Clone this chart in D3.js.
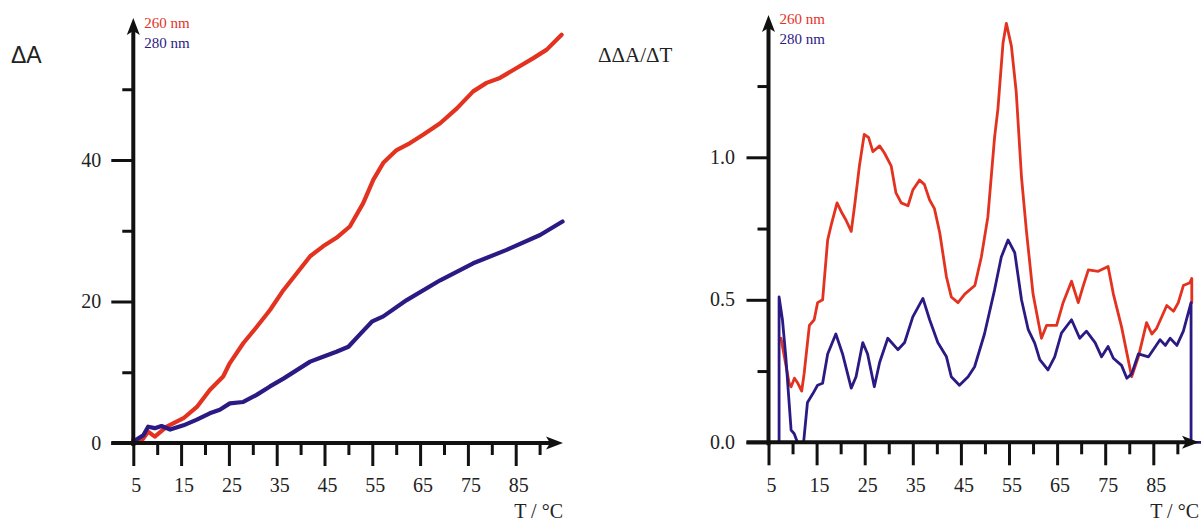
<!DOCTYPE html>
<html><head><meta charset="utf-8">
<script src="https://cdn.jsdelivr.net/npm/d3@7"></script>
<style>html,body{margin:0;padding:0;background:#fff;} svg{display:block;}</style>
</head><body>
<script>
// ---------- data ----------
const leftT260 = [5, 6.5, 8.1, 9.5, 12, 15.5, 18.3, 21, 23.8, 25.2, 28, 30.8, 33.6, 36.4, 39.2, 42, 44.7, 47.5, 50.3, 53.1, 55.2, 57.3, 60.1, 62.9, 65.7, 69.2, 72.7, 76.1, 78.9, 81.7, 85.2, 88.7, 91.5, 94.6];
const left260  = [0.5, 0.1, 1.6, 0.9, 2.3, 3.5, 5.1, 7.5, 9.4, 11.3, 14.1, 16.4, 18.8, 21.6, 24, 26.4, 27.8, 29, 30.6, 33.9, 37.2, 39.6, 41.4, 42.4, 43.6, 45.2, 47.3, 49.7, 50.9, 51.6, 53, 54.4, 55.6, 57.7];

const leftT280 = [5, 7.1, 8.1, 9.5, 10.9, 12.7, 15.5, 18.3, 21, 23.1, 25.2, 28, 30.8, 33.6, 36.4, 39.2, 42, 44.7, 47.5, 50, 52.6, 55, 57.3, 62.2, 69.2, 76.1, 83.1, 90.1, 94.8];
const left280  = [0.2, 1.1, 2.3, 2.1, 2.4, 1.9, 2.5, 3.3, 4.2, 4.7, 5.6, 5.8, 6.8, 8, 9.1, 10.3, 11.5, 12.2, 12.9, 13.6, 15.5, 17.2, 17.9, 20.2, 23, 25.4, 27.3, 29.4, 31.3];

const rightT260 = [7.6, 9.3, 9.7, 10.4, 11, 11.9, 12.4, 13.5, 14.5, 15.2, 16.25, 17.3, 18, 19.25, 20.1, 21.1, 22.2, 22.9, 23.9, 24.9, 25.8, 26.7, 28.1, 29.1, 30.5, 31.5, 32.6, 34, 35, 36.4, 37.4, 38.5, 39.5, 40.6, 42, 43, 44.4, 45.8, 47.9, 49.25, 50.6, 52, 52.7, 53.75, 54.45, 55.5, 56.5, 57.6, 58.6, 60, 61.75, 62.8, 64.9, 66.25, 68, 69.4, 70.4, 71.5, 73.55, 75.6, 76.7, 78.4, 80.5, 81.9, 83.6, 84.7, 85.7, 87.8, 89.2, 90.2, 91.25, 92.6, 93, 93];
const right260  = [0.365, 0.207, 0.195, 0.225, 0.21, 0.18, 0.24, 0.41, 0.43, 0.49, 0.5, 0.71, 0.76, 0.84, 0.81, 0.78, 0.74, 0.83, 0.97, 1.08, 1.07, 1.02, 1.04, 1.015, 0.97, 0.875, 0.84, 0.83, 0.885, 0.92, 0.905, 0.85, 0.82, 0.735, 0.58, 0.51, 0.49, 0.52, 0.55, 0.65, 0.79, 1.07, 1.17, 1.40, 1.47, 1.39, 1.23, 0.93, 0.745, 0.52, 0.365, 0.41, 0.41, 0.49, 0.565, 0.49, 0.547, 0.605, 0.6, 0.617, 0.52, 0.405, 0.23, 0.30, 0.42, 0.38, 0.40, 0.48, 0.46, 0.49, 0.55, 0.56, 0.575, 0.49];

const rightT280 = [5, 7.2, 7.2, 7.9, 8.6, 9.7, 10.35, 11, 12.3, 13.1, 14.2, 15.2, 16.25, 17.3, 19, 20.4, 22.2, 23.2, 24.6, 25.6, 27, 28.1, 29.8, 31.9, 33.3, 35, 37.1, 38.5, 40.2, 42, 43, 44.7, 46.5, 47.85, 49.9, 52, 53.4, 54.8, 56.2, 57.6, 59, 60.35, 61.4, 63.1, 64.5, 65.9, 68, 69.7, 71.1, 72.9, 74.25, 75.6, 76.7, 78.4, 79.5, 80.5, 81.9, 84, 86.4, 87.5, 88.5, 89.9, 91.25, 92.85, 92.85, 94.8];
const right280  = [0, 0, 0.51, 0.43, 0.30, 0.043, 0.03, 0, 0, 0.14, 0.17, 0.20, 0.207, 0.31, 0.38, 0.31, 0.19, 0.23, 0.35, 0.31, 0.195, 0.28, 0.365, 0.325, 0.35, 0.44, 0.505, 0.43, 0.35, 0.30, 0.23, 0.20, 0.23, 0.265, 0.38, 0.535, 0.65, 0.71, 0.665, 0.50, 0.395, 0.348, 0.29, 0.254, 0.30, 0.383, 0.43, 0.365, 0.39, 0.35, 0.30, 0.336, 0.295, 0.27, 0.225, 0.24, 0.31, 0.30, 0.36, 0.34, 0.365, 0.34, 0.39, 0.49, 0, 0];

const xMajor = [5, 15, 25, 35, 45, 55, 65, 75, 85];
const xLabels = ["5", "15", "25", "35", "45", "55", "65", "75", "85"];
const xMinor = [10, 20, 30, 40, 50, 60, 70, 80, 90];
const leftYMajor = [0, 20, 40];
const leftYLabels = ["0", "20", "40"];
const leftYMinor = [10, 30, 50];
const rightYMajor = [0, 0.5, 1.0];
const rightYLabels = ["0.0", "0.5", "1.0"];
const rightYMinor = [0.25, 0.75, 1.25];
const seriesNames = ["260 nm", "280 nm"];

const RED = "#e3321f", BLUE = "#2b1a84";
const SERIF = "'Liberation Serif','Times New Roman',serif";
const SANS = "'Liberation Sans',Arial,sans-serif";

const svg = d3.select("body").append("svg").attr("width", 1201).attr("height", 524);

function panel(cfg) {
  const g = svg.append("g");
  const x = cfg.x, y = cfg.y;
  const ax = x(5), ay = y(0);

  // curves
  const line = d3.line().x(d => x(d[0])).y(d => y(d[1]));
  cfg.series.forEach(s => {
    g.append("path").datum(d3.zip(s.t, s.v))
      .attr("d", line).attr("fill", "none").attr("stroke", s.color)
      .attr("stroke-width", cfg.lw).attr("stroke-linejoin", "round").attr("stroke-linecap", "round");
  });

  // ticks via d3 axes
  const styleAxis = (sel) => { sel.select(".domain").remove(); sel.selectAll("line").attr("stroke", "#111").attr("stroke-width", 3); sel.selectAll("text").remove(); };
  g.append("g").attr("transform", `translate(0,${ay})`).call(d3.axisBottom(x).tickValues(xMajor).tickSize(23).tickFormat("")).call(styleAxis);
  g.append("g").attr("transform", `translate(0,${ay})`).call(d3.axisBottom(x).tickValues(xMinor).tickSize(12).tickFormat("")).call(styleAxis);
  g.append("g").attr("transform", `translate(${ax},0)`).call(d3.axisLeft(y).tickValues(cfg.yMajor).tickSize(22).tickFormat("")).call(styleAxis);
  g.append("g").attr("transform", `translate(${ax},0)`).call(d3.axisLeft(y).tickValues(cfg.yMinor).tickSize(11).tickFormat("")).call(styleAxis);

  // axis lines
  g.append("line").attr("x1", ax - 22).attr("x2", cfg.xTip - 10).attr("y1", ay).attr("y2", ay).attr("stroke", "#111").attr("stroke-width", 4);
  g.append("line").attr("x1", ax).attr("x2", ax).attr("y1", ay + 3).attr("y2", cfg.yTip + 10).attr("stroke", "#111").attr("stroke-width", 4);
  g.append("path").attr("d", `M${cfg.xTip},${ay} L${cfg.xTip - 17},${ay - 6.5} L${cfg.xTip - 13},${ay} L${cfg.xTip - 17},${ay + 6.5} Z`).attr("fill", "#111");
  g.append("path").attr("d", `M${ax},${cfg.yTip} L${ax - 6.5},${cfg.yTip + 17} L${ax},${cfg.yTip + 13} L${ax + 6.5},${cfg.yTip + 17} Z`).attr("fill", "#111");

  // tick labels
  g.selectAll(".xl").data(xMajor).join("text")
    .attr("x", d => x(d) + 3).attr("y", 492).attr("text-anchor", "middle")
    .attr("font-family", SERIF).attr("font-size", 20).attr("fill", "#222").text((d, i) => xLabels[i]);
  g.selectAll(".yl").data(cfg.yMajor).join("text")
    .attr("x", ax - cfg.yLabGap).attr("y", d => y(d) + 6.5).attr("text-anchor", "end")
    .attr("font-family", SERIF).attr("font-size", 20).attr("fill", "#222").text((d, i) => cfg.yLabels[i]);

  // axis titles
  g.append("text").attr("x", cfg.xTip).attr("y", 518).attr("text-anchor", "end")
    .attr("font-family", SERIF).attr("font-size", 20).attr("fill", "#222").text("T / °C");
  g.append("text").attr("x", cfg.titleX).attr("y", cfg.titleY)
    .attr("font-family", cfg.titleFont).attr("font-size", cfg.titleSize).attr("fill", "#222").text(cfg.title);

  // legend
  cfg.series.forEach((s, i) => {
    g.append("text").attr("x", ax + 11).attr("y", cfg.legY + i * 20)
      .attr("font-family", SERIF).attr("font-size", 15).attr("fill", s.color).text(seriesNames[i]);
  });
}

panel({
  x: d3.scaleLinear().domain([5, 85]).range([133.3, 515.7]),
  y: d3.scaleLinear().domain([0, 40]).range([443, 160]),
  series: [{ t: leftT260, v: left260, color: RED }, { t: leftT280, v: left280, color: BLUE }],
  lw: 4.2, yMajor: leftYMajor, yMinor: leftYMinor, yLabels: leftYLabels, yLabGap: 32,
  xTip: 563, yTip: 18, title: "ΔA", titleX: 11, titleY: 63, titleFont: SANS, titleSize: 23, legY: 28
});

panel({
  x: d3.scaleLinear().domain([5, 85]).range([768.5, 1153.3]),
  y: d3.scaleLinear().domain([0, 1]).range([442.3, 157.3]),
  series: [{ t: rightT260, v: right260, color: RED }, { t: rightT280, v: right280, color: BLUE }],
  lw: 2.8, yMajor: rightYMajor, yMinor: rightYMinor, yLabels: rightYLabels, yLabGap: 33.5,
  xTip: 1199, yTip: 15, title: "ΔΔA/ΔT", titleX: 598, titleY: 62, titleFont: SERIF, titleSize: 21, legY: 24
});
</script>
</body></html>
